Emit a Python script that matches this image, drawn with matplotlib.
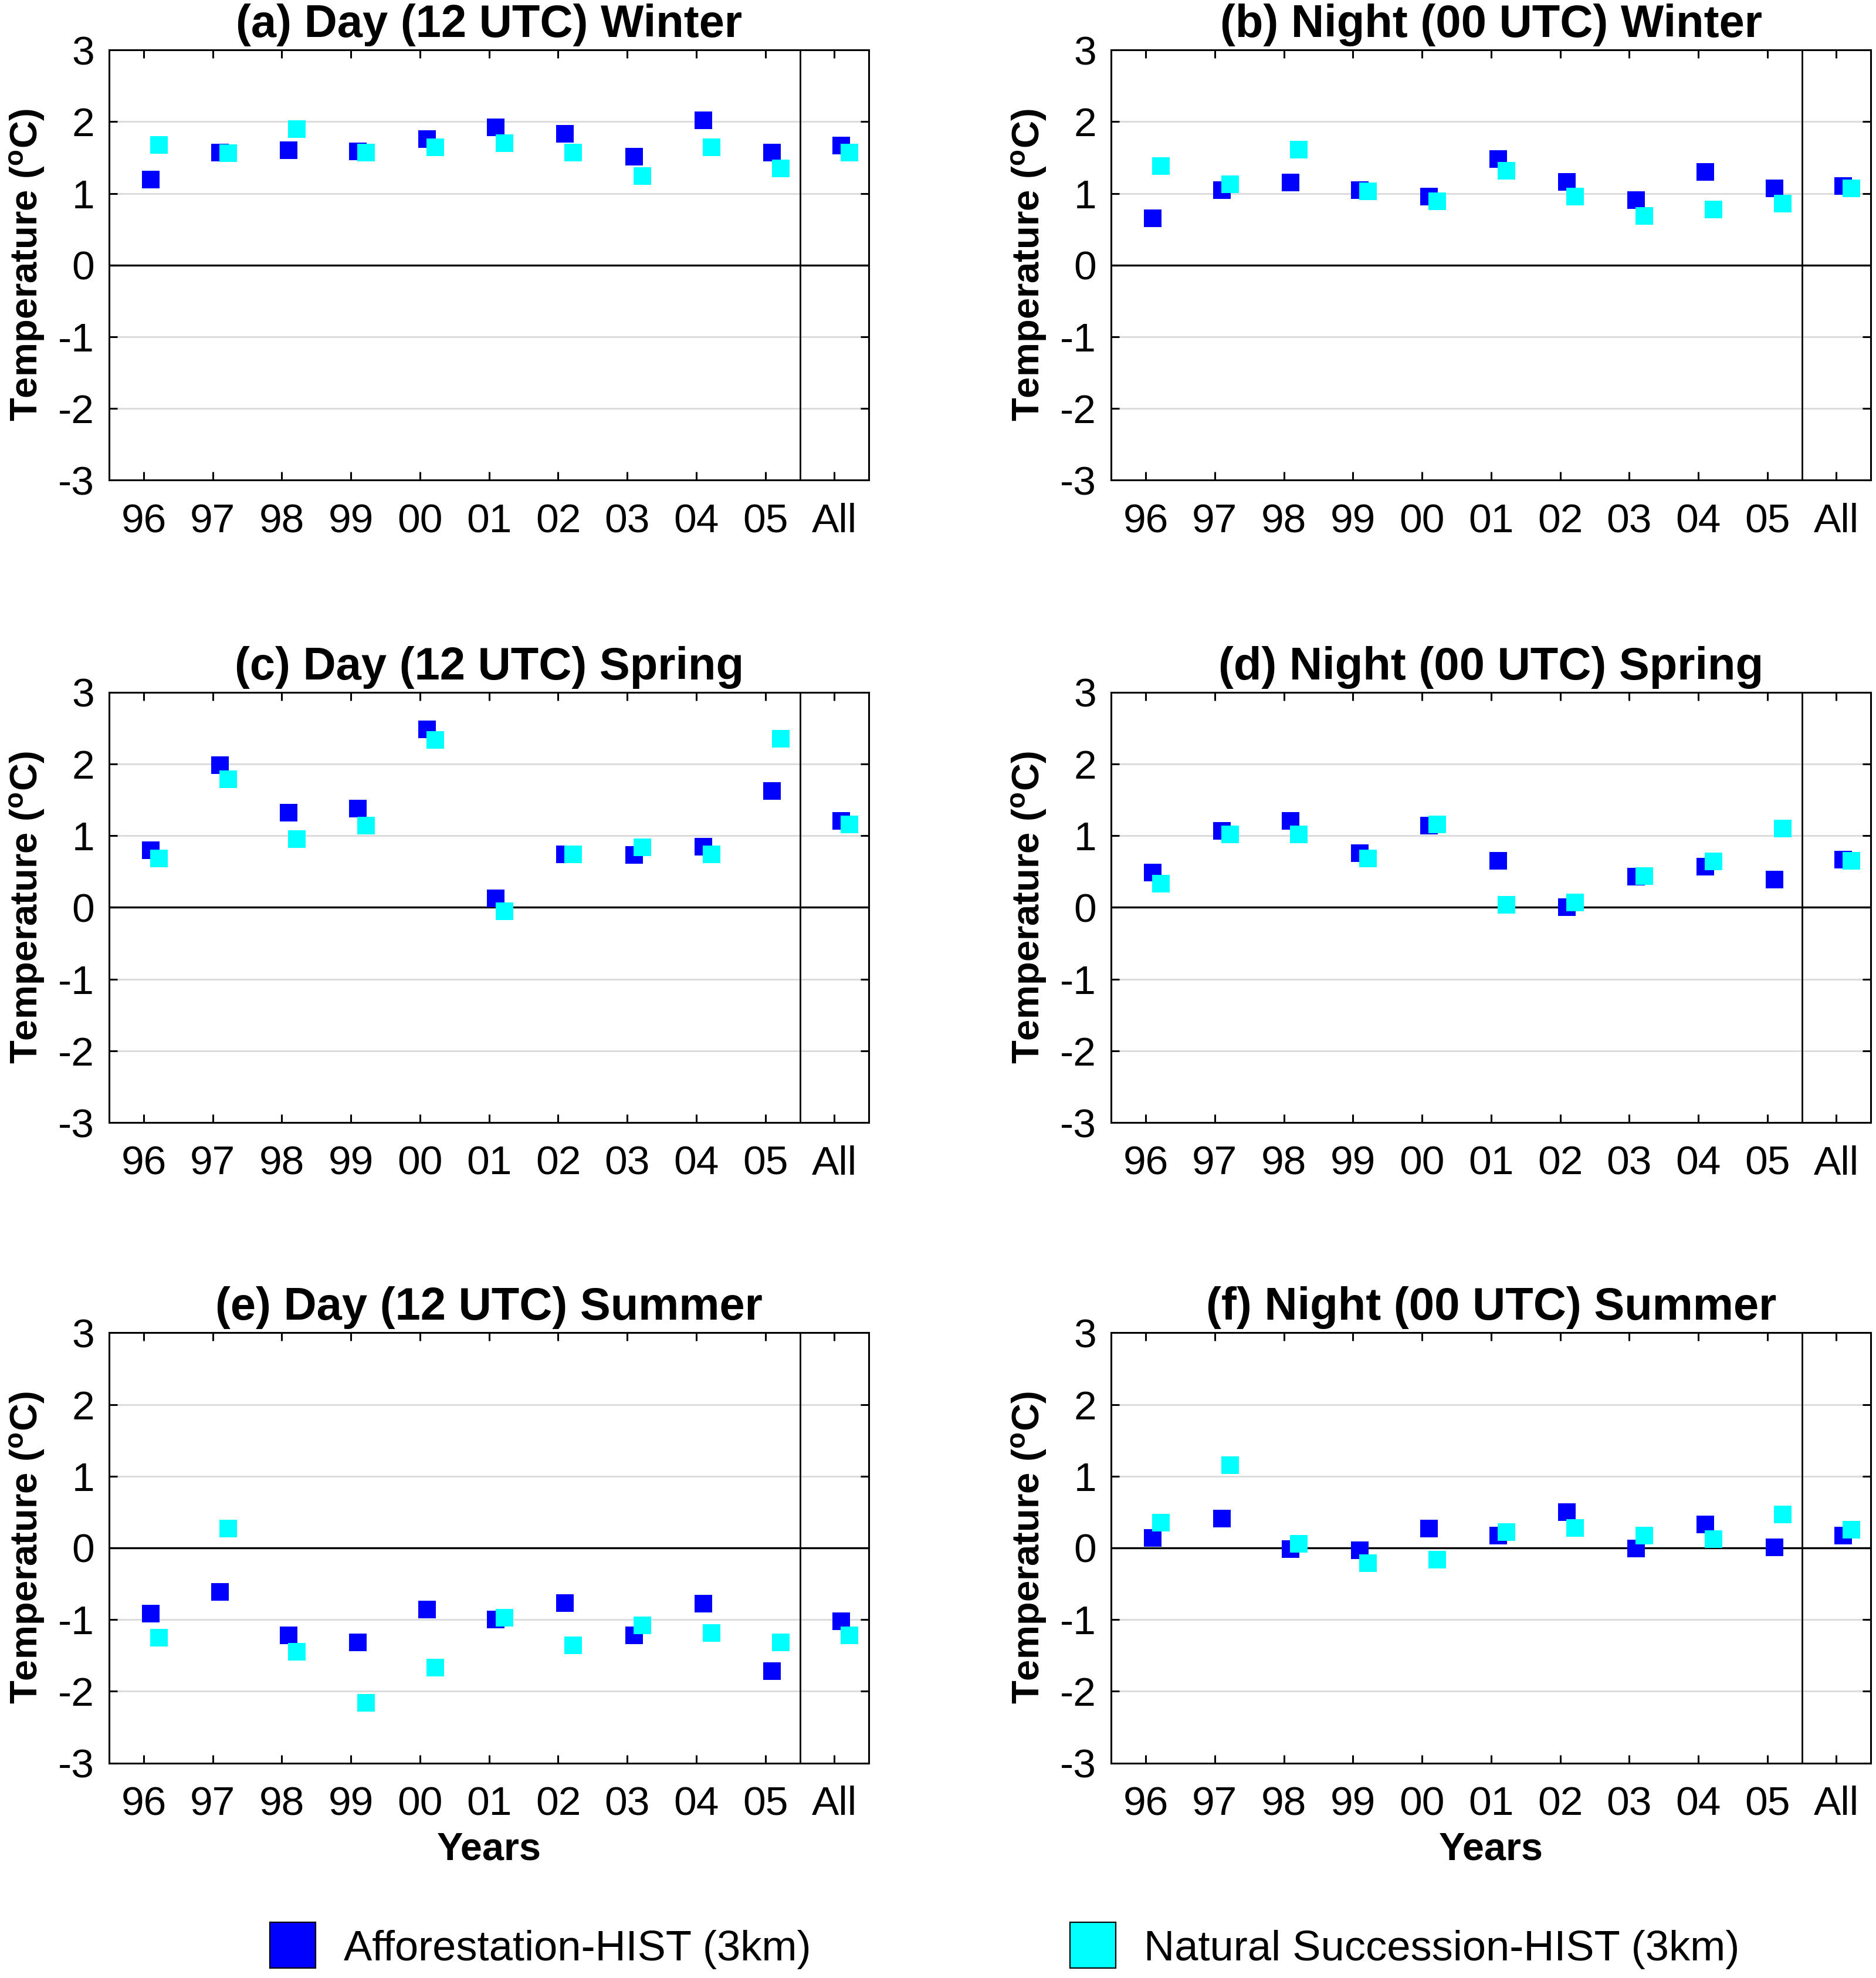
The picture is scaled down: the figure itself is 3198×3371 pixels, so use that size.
import numpy as np
import matplotlib.pyplot as plt
from matplotlib.lines import Line2D

plt.rcParams['font.family'] = ['Liberation Sans', 'DejaVu Sans']
plt.rcParams['mathtext.fontset'] = 'custom'
plt.rcParams['mathtext.rm'] = 'Liberation Sans'
plt.rcParams['mathtext.bf'] = 'Liberation Sans:bold'
plt.rcParams['axes.unicode_minus'] = False

years = ['96', '97', '98', '99', '00', '01', '02', '03', '04', '05', 'All']

# (a) day winter
aff_a = [1.19, 1.57, 1.60, 1.59, 1.76, 1.92, 1.83, 1.51, 2.02, 1.57, 1.67]
nat_a = [1.68, 1.56, 1.90, 1.57, 1.64, 1.70, 1.57, 1.24, 1.64, 1.35, 1.57]
# (b) night winter
aff_b = [0.65, 1.05, 1.15, 1.05, 0.96, 1.48, 1.16, 0.91, 1.30, 1.07, 1.10]
nat_b = [1.38, 1.13, 1.61, 1.03, 0.89, 1.32, 0.96, 0.69, 0.78, 0.86, 1.07]
# (c) day spring
aff_c = [0.80, 1.98, 1.32, 1.38, 2.48, 0.13, 0.74, 0.73, 0.85, 1.62, 1.21]
nat_c = [0.68, 1.79, 0.95, 1.14, 2.34, -0.05, 0.74, 0.84, 0.74, 2.35, 1.16]
# (d) night spring
aff_d = [0.49, 1.07, 1.21, 0.76, 1.14, 0.65, 0.00, 0.43, 0.57, 0.39, 0.67]
nat_d = [0.33, 1.02, 1.02, 0.68, 1.16, 0.04, 0.07, 0.44, 0.64, 1.10, 0.65]
# (e) day summer
aff_e = [-0.92, -0.61, -1.22, -1.32, -0.86, -1.00, -0.77, -1.22, -0.78, -1.72, -1.02]
nat_e = [-1.25, 0.27, -1.45, -2.16, -1.67, -0.97, -1.36, -1.08, -1.19, -1.32, -1.22]
# (f) night summer
aff_f = [0.14, 0.41, -0.02, -0.03, 0.27, 0.17, 0.50, -0.01, 0.33, 0.01, 0.17]
nat_f = [0.35, 1.15, 0.06, -0.21, -0.16, 0.22, 0.28, 0.17, 0.12, 0.47, 0.25]

titles = ['(a) Day (12 UTC) Winter', '(b) Night (00 UTC) Winter',
          '(c) Day (12 UTC) Spring', '(d) Night (00 UTC) Spring',
          '(e) Day (12 UTC) Summer', '(f) Night (00 UTC) Summer']
aff_all = [aff_a, aff_b, aff_c, aff_d, aff_e, aff_f]
nat_all = [nat_a, nat_b, nat_c, nat_d, nat_e, nat_f]

blue = '#0000ff'
cyan = '#00ffff'

fig = plt.figure(figsize=(3198 / 200, 3371 / 200), dpi=200)
lefts = [0.0582, 0.5923]
bottoms = [0.7572, 0.4325, 0.1087]
w, h = 0.405, 0.2175

x = np.arange(1, len(years) + 1)
for i in range(6):
    ax = fig.add_axes([lefts[i % 2], bottoms[i // 2], w, h])
    ax.axhline(0, color='k', lw=1.2, zorder=2)
    ax.axvline(10.5, color='k', lw=1.0, zorder=2)
    ax.plot(x + 0.1, aff_all[i], 's', color=blue, ms=10.5, mew=0, zorder=3)
    ax.plot(x + 0.22, nat_all[i], 's', color=cyan, ms=10.5, mew=0, zorder=4)
    ax.set_xlim(0.5, 11.5)
    ax.set_ylim(-3, 3)
    ax.set_xticks(x)
    ax.set_xticklabels(years)
    ax.set_yticks(range(-3, 4))
    ax.grid(axis='y', color='#dcdcdc', lw=1.1, zorder=0)
    ax.set_axisbelow(True)
    ax.tick_params(direction='in', length=5, width=1.1, labelsize=25,
                   top=True, right=True)
    ax.tick_params(axis='x', pad=14)
    ax.tick_params(axis='y', pad=9)
    for s in ax.spines.values():
        s.set_linewidth(1.1)
    ax.set_title(titles[i], fontsize=28, fontweight='bold', pad=8)
    ax.set_ylabel(r'Temperature ($\mathbf{^o}$C)', fontsize=23.5, fontweight='bold')
    ax.yaxis.set_label_coords(-0.082, 0.5)
    if i >= 4:
        ax.set_xlabel('Years', fontsize=24, fontweight='bold')
        ax.xaxis.set_label_coords(0.5, -0.16)

labels = ['Afforestation-HIST (3km)', 'Natural Succession-HIST (3km)']
colors = [blue, cyan]
anchors = [0.1448, 0.5713]
for lab, c, xa in zip(labels, colors, anchors):
    hnd = Line2D([], [], linestyle='none', marker='s', ms=28,
                 markerfacecolor=c, markeredgecolor='k', mew=0.8)
    fig.legend([hnd], [lab], loc='center left', bbox_to_anchor=(xa, 0.0145),
               frameon=False, fontsize=26, handlelength=1.0,
               handletextpad=0.7, borderpad=0, borderaxespad=0)

fig.savefig('out.png', dpi=200)
